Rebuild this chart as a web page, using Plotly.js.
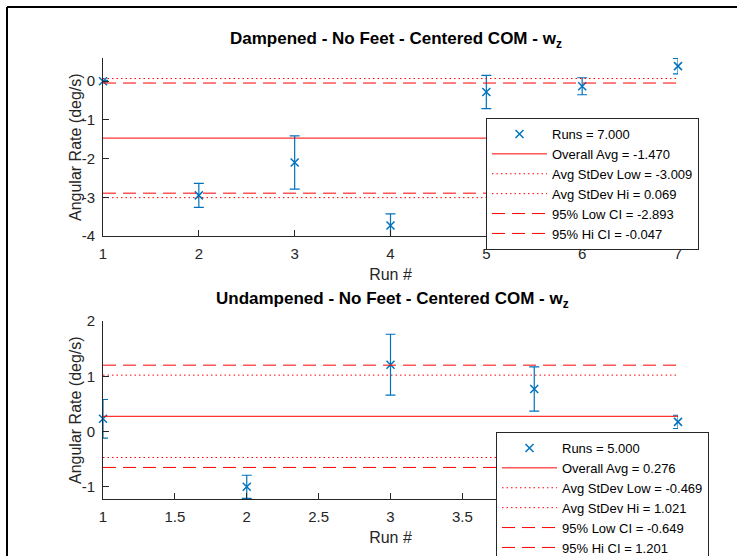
<!DOCTYPE html>
<html>
<head>
<meta charset="utf-8">
<script src="https://cdn.plot.ly/plotly-3.0.1.min.js"></script>
<style>
  html, body { margin: 0; padding: 0; background: #fff; }
  #chart { width: 737px; height: 556px; }
</style>
</head>
<body>
<div id="chart"></div>
<script>
// ---------- data ----------
const runsTop = [1, 2, 3, 4, 5, 6, 7];
const meanTop = [0.0, -2.95, -2.10, -3.73, -0.28, -0.13, 0.39];
const errTop = [0.02, 0.31, 0.69, 0.30, 0.43, 0.22, 0.20];

const runsBottom = [1, 2, 3, 4, 5];
const meanBottom = [0.23, -1.00, 1.21, 0.77, 0.175];
const errBottom = [0.35, 0.21, 0.55, 0.40, 0.12];

const statNames = ['Overall Avg', 'Avg StDev Low', 'Avg StDev Hi', '95% Low CI', '95% Hi CI'];
const statTop = [-1.470, -3.009, 0.069, -2.893, -0.047];
const statBottom = [0.276, -0.469, 1.021, -0.649, 1.201];

const titleTop = 'Dampened - No Feet - Centered COM - w<sub>z</sub>';
const titleBottom = 'Undampened - No Feet - Centered COM - w<sub>z</sub>';
const xTitle = 'Run #';
const yTitle = 'Angular Rate (deg/s)';

const yTickValsTop = [0, -1, -2, -3, -4];
const yTickTextTop = ['0', '-1', '-2', '-3', '-4'];
const yTickValsBottom = [2, 1, 0, -1];
const yTickTextBottom = ['2', '1', '0', '-1'];
const xTickValsTop = [1, 2, 3, 4, 5, 6, 7];
const xTickValsBottom = [1, 1.5, 2, 2.5, 3, 3.5, 4, 4.5, 5];

// ---------- styles ----------
const BLUE = '#0072BD';
const RED = '#FF0000';
const AX = '#262626';
const FONT = '"Liberation Sans", Arial, Helvetica, sans-serif';
const statDash = ['solid', '1.5px,3px', '1.5px,3px', '13px,7px', '13px,7px'];

function buildTraces(runs, mean, err, stats, xa, ya, leg) {
  const tr = [];
  tr.push({
    x: runs, y: mean, type: 'scatter', mode: 'markers',
    xaxis: xa, yaxis: ya, legend: leg, cliponaxis: false,
    name: 'Runs = ' + runs.length.toFixed(3),
    marker: { symbol: 'x-thin', size: 8, color: BLUE, line: { color: BLUE, width: 1.5 } },
    error_y: { type: 'data', array: err, visible: true, color: BLUE, thickness: 1.2, width: 5 }
  });
  const x0 = runs[0], x1 = runs[runs.length - 1];
  stats.forEach((v, i) => {
    tr.push({
      x: [x0, x1], y: [v, v], type: 'scatter', mode: 'lines',
      xaxis: xa, yaxis: ya, legend: leg,
      name: statNames[i] + ' = ' + v.toFixed(3),
      line: { color: RED, width: 1, dash: statDash[i] }
    });
  });
  return tr;
}

const data = [].concat(
  buildTraces(runsTop, meanTop, errTop, statTop, 'x', 'y', 'legend'),
  buildTraces(runsBottom, meanBottom, errBottom, statBottom, 'x2', 'y2', 'legend2')
);

const W = 737, H = 556;
const px = v => v / W;
const py = v => 1 - v / H;

const axisCommon = {
  showline: true, linecolor: AX, linewidth: 1, mirror: false,
  ticks: 'inside', ticklen: 6, tickcolor: AX, tickwidth: 1,
  showgrid: false, zeroline: false, automargin: false,
  tickfont: { family: FONT, size: 15, color: AX },
  ticklabelstandoff: 4
};

const legendCommon = {
  bgcolor: '#ffffff', bordercolor: AX, borderwidth: 1,
  font: { family: FONT, size: 13, color: '#000' },
  xref: 'container', yref: 'container',
  xanchor: 'left', yanchor: 'top', itemwidth: 55, tracegroupgap: 0,
  itemclick: false
};

const xTitleObj = { text: xTitle, font: { family: FONT, size: 16, color: AX }, standoff: 7 };

const layout = {
  width: W, height: H,
  margin: { l: 0, r: 0, t: 0, b: 0, autoexpand: false },
  paper_bgcolor: '#ffffff', plot_bgcolor: '#ffffff',
  showlegend: true,
  font: { family: FONT, color: AX },
  xaxis: Object.assign({}, axisCommon, {
    domain: [px(103), px(678)], anchor: 'y', range: [1, 7],
    tickvals: xTickValsTop, title: xTitleObj
  }),
  yaxis: Object.assign({}, axisCommon, {
    domain: [py(236), py(58)], anchor: 'x', range: [-4, 0.6],
    tickvals: yTickValsTop, ticktext: yTickTextTop
  }),
  xaxis2: Object.assign({}, axisCommon, {
    domain: [px(103), px(678)], anchor: 'y2', range: [1, 5],
    tickvals: xTickValsBottom, title: xTitleObj
  }),
  yaxis2: Object.assign({}, axisCommon, {
    domain: [py(499), py(321)], anchor: 'x2', range: [-1.22, 2],
    tickvals: yTickValsBottom, ticktext: yTickTextBottom
  }),
  legend: Object.assign({}, legendCommon, { x: px(486), y: py(118) }),
  legend2: Object.assign({}, legendCommon, { x: px(496), y: py(432) }),
  annotations: [
    { text: titleTop, xref: 'paper', yref: 'paper', x: px(396), y: py(40),
      xanchor: 'center', yanchor: 'middle', showarrow: false,
      font: { family: FONT, size: 17, color: '#000', weight: 'bold' } },
    { text: titleBottom, xref: 'paper', yref: 'paper', x: px(392), y: py(300),
      xanchor: 'center', yanchor: 'middle', showarrow: false,
      font: { family: FONT, size: 17, color: '#000', weight: 'bold' } },
    { text: yTitle, xref: 'paper', yref: 'paper', x: px(75), y: py(147),
      xanchor: 'center', yanchor: 'middle', showarrow: false, textangle: -90,
      font: { family: FONT, size: 16, color: AX } },
    { text: yTitle, xref: 'paper', yref: 'paper', x: px(75), y: py(410),
      xanchor: 'center', yanchor: 'middle', showarrow: false, textangle: -90,
      font: { family: FONT, size: 16, color: AX } }
  ],
  shapes: [
    { type: 'line', xref: 'paper', yref: 'paper', x0: px(7), x1: px(7), y0: 0, y1: py(7),
      line: { color: '#000', width: 2 } },
    { type: 'line', xref: 'paper', yref: 'paper', x0: px(7), x1: 1, y0: py(7), y1: py(7),
      line: { color: '#000', width: 2 } }
  ]
};

Plotly.newPlot('chart', data, layout, { displayModeBar: false, staticPlot: true });
</script>
</body>
</html>
